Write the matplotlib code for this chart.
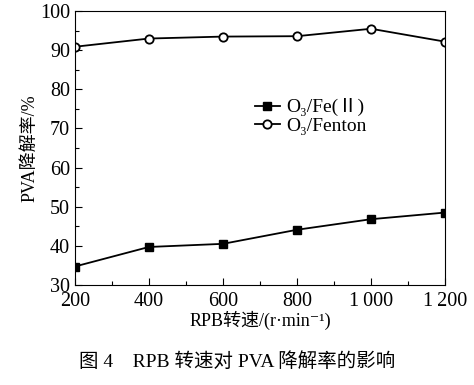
import matplotlib
matplotlib.use("Agg")
from matplotlib import pyplot as plt
from matplotlib.ticker import MultipleLocator

plt.rcParams['font.family'] = ['Liberation Serif', 'Noto Sans CJK SC', 'DejaVu Sans']

speed = [200, 400, 600, 800, 1000, 1200]
fe2 = [34.7, 39.7, 40.5, 44.1, 46.8, 48.5]
fenton = [90.9, 93.0, 93.5, 93.6, 95.5, 92.2]
xtick_labels = ['200', '400', '600', '800', '1\u2009000', '1\u2009200']
yticks = [30, 40, 50, 60, 70, 80, 90, 100]

fig = plt.figure(figsize=(4.74, 3.85), dpi=100)
ax = fig.add_axes([0.158, 0.26, 0.781, 0.711])

ax.plot(speed, fe2, '-s', color='black', lw=1.3, ms=5.5, label='O\u2083/Fe(Ⅱ)')
ax.plot(speed, fenton, '-o', color='black', lw=1.3, ms=6, mfc='white', mew=1.3,
        label='O\u2083/Fenton')

ax.set_xlim(200, 1200)
ax.set_ylim(30, 100)
ax.set_xticks(speed, xtick_labels)
ax.set_yticks(yticks)
ax.xaxis.set_minor_locator(MultipleLocator(100))
ax.yaxis.set_minor_locator(MultipleLocator(5))
ax.tick_params(which='both', direction='in', labelsize=14.5, width=0.8)
ax.tick_params(which='major', length=5)
ax.tick_params(which='minor', length=3)
ax.tick_params(axis='x', pad=5)
for s in ax.spines.values():
    s.set_linewidth(0.8)

ax.set_xlabel('RPB转速/(r·min\u207b\u00b9)', fontsize=13, labelpad=0)
ax.set_ylabel('PVA降解率/%', fontsize=13, labelpad=1)

ax.legend(loc='upper left', bbox_to_anchor=(0.465, 0.71), frameon=False, fontsize=14,
          handlelength=1.3, handletextpad=0.3, labelspacing=0.05, borderaxespad=0)

fig.text(0.5, 0.06, '图 4    RPB 转速对 PVA 降解率的影响', ha='center', va='center',
         fontsize=14)

fig.savefig('out.png', dpi=100)
